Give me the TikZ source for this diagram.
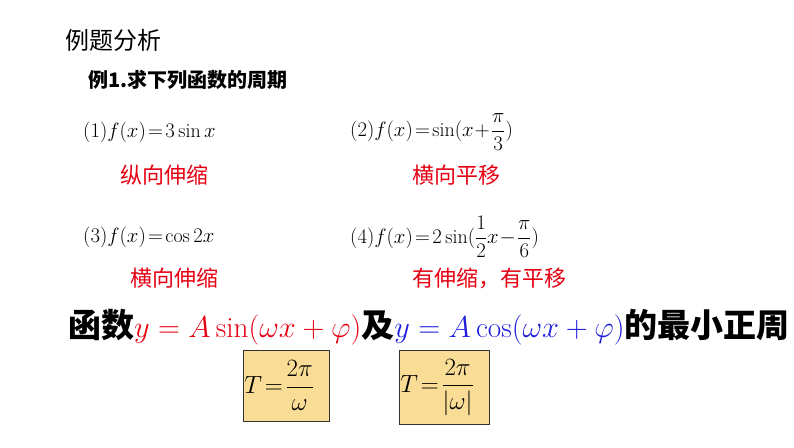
\documentclass[tikz,border=0pt]{standalone}
\usepackage{amsmath}
\usepackage{fontspec}
\newfontfamily\cjk{Noto Sans CJK SC}
\usetikzlibrary{positioning}
\definecolor{fml}{RGB}{230,0,18}
\definecolor{fmlb}{RGB}{30,30,220}
\definecolor{boxfill}{RGB}{249,220,149}
\newcommand\bigmath[1]{\scalebox{1.22}{\fontsize{24}{28}\selectfont$#1$}}
\begin{document}
\begin{tikzpicture}[x=1pt,y=1pt,
      nodes={inner sep=0pt, anchor=west},
      fn/.style={font=\fontsize{20}{24}\selectfont},
      note/.style={font=\fontsize{22}{26}\selectfont\cjk, text=fml},
      tbox/.style={draw=black!80, thick, fill=boxfill, anchor=north west,
        inner sep=1pt, align=left, font=\fontsize{24}{28}\selectfont}
      ]
  \useasboundingbox (0,0) rectangle (794,-447);

  \node (title) at (65,-40) {\fontsize{24}{28}\selectfont\cjk 例题分析};
  \node (task) at (88,-80) {\fontsize{20}{24}\selectfont\cjk\bfseries 例1.求下列函数的周期};

  % the four functions
  \node[fn] (f1) at (83,-132) {$(1)f(x)\!=\!3\sin x$};
  \node[fn] (f2) at (350,-132) {$(2)f(x)\!=\!\sin(x\!+\!\dfrac{\pi}{3})$};
  \node[fn] (f3) at (83,-237) {$(3)f(x)\!=\!\cos 2x$};
  \node[fn] (f4) at (350,-237) {$(4)f(x)\!=\!2\sin(\dfrac{1}{2}x\!-\!\dfrac{\pi}{6})$};

  \node[note] (n1) at (120,-175) {纵向伸缩};
  \node[note] (n2) at (412,-175) {横向平移};
  \node[note] (n3) at (130,-278) {横向伸缩};
  \node[note] (n4) at (412,-278) {有伸缩，有平移};

  \node (sum) at (68,-327) {\fontsize{33}{38}\selectfont\cjk\bfseries 函数%
    \textcolor{fml}{\bigmath{y=A\sin(\omega x+\varphi)}}及%
    \textcolor{fmlb}{\bigmath{y=A\cos(\omega x+\varphi)}}的最小正周};

  \node[tbox, text width=84pt, minimum height=71pt] (t1) at (243,-350)
    {$T\!=\!\dfrac{2\pi}{\omega}$};
  \node[tbox, text width=88pt, minimum height=74pt] (t2) at (399,-350)
    {$T\!=\!\dfrac{2\pi}{|\omega|}$};
\end{tikzpicture}
\end{document}
